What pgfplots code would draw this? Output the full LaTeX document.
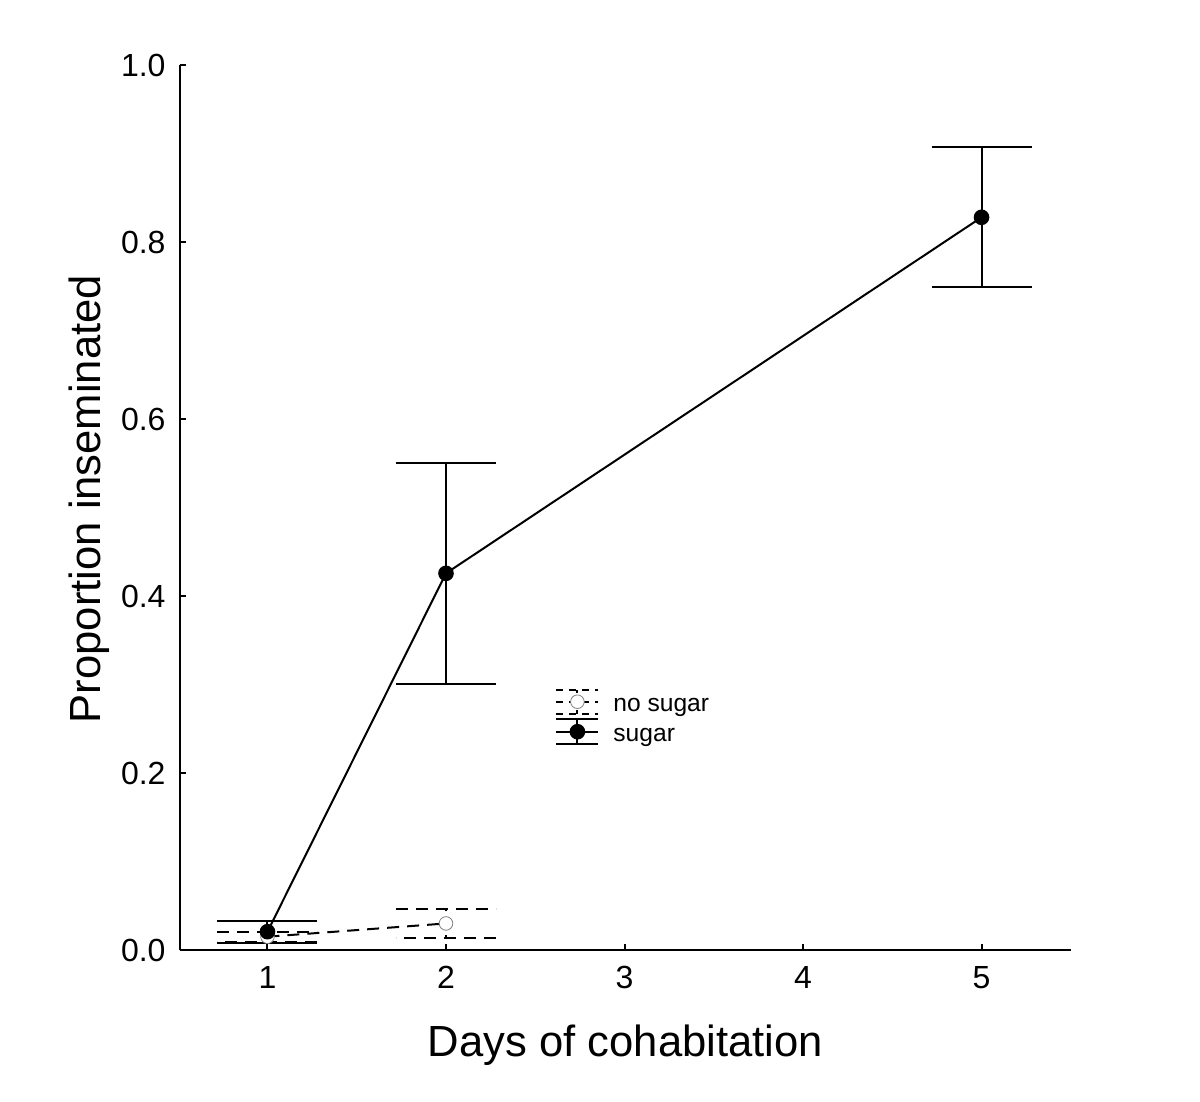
\documentclass[border=0pt]{standalone}
\usepackage{fontspec}
\setmainfont{Liberation Sans}
\usepackage{pgfplots}
\pgfplotsset{compat=1.18}

\pgfplotsset{
  legnosugar/.style={legend image code/.code={
    \path[draw=none, fill=none] (-11pt,-5.1pt) rectangle (11pt,9.9pt);
    \begin{scope}[yshift=2.4pt]
      \draw[black, line width=1pt, dash pattern=on 3.5pt off 3pt] (-10.5pt,6pt) -- (10.5pt,6pt);
      \draw[black, line width=1pt, dash pattern=on 3.5pt off 3pt] (-10.5pt,-6pt) -- (10.5pt,-6pt);
      \draw[black, line width=1pt, dash pattern=on 2pt off 1.5pt] (0pt,-6pt) -- (0pt,6pt);
      \draw[##1, dash pattern=on 3.5pt off 3pt, mark repeat=2, mark phase=2] plot coordinates {(-10.5pt,0pt) (0pt,0pt) (10.5pt,0pt)};
    \end{scope}
  }},
  legsugar/.style={legend image code/.code={
    \path[draw=none, fill=none] (-11pt,-5.1pt) rectangle (11pt,9.9pt);
    \begin{scope}[yshift=2.4pt]
      \draw[black, line width=1pt] (-10.5pt,6.2pt) -- (10.5pt,6.2pt);
      \draw[black, line width=1pt] (-10.5pt,-6.2pt) -- (10.5pt,-6.2pt);
      \draw[black, line width=1pt] (0pt,-6.2pt) -- (0pt,6.2pt);
      \draw[##1, mark repeat=2, mark phase=2] plot coordinates {(-10.5pt,0pt) (0pt,0pt) (10.5pt,0pt)};
    \end{scope}
  }},
}

\begin{document}
\begin{tikzpicture}
\path[use as bounding box] (-90pt,-76pt) rectangle (510pt,475pt);
\begin{axis}[
  at={(0,0)}, anchor=south west,
  scale only axis, width=445.4pt, height=442.5pt,
  xmin=0.51, xmax=5.5, ymin=0, ymax=1,
  clip=false,
  axis x line*=bottom, axis y line*=left,
  axis line style={line width=1pt, black},
  tick align=inside, major tick length=3pt,
  tick style={line width=1pt, black},
  xtick={1,2,3,4,5}, xticklabels={1,2,3,4,5},
  ytick={0,0.2,0.4,0.6,0.8,1.0},
  yticklabel={\pgfmathprintnumber[fixed,fixed zerofill,precision=1,assume math mode=true]{\tick}},
  tick label style={font=\fontsize{16pt}{19pt}\selectfont},
  xticklabel style={yshift=-4.7pt},
  yticklabel style={xshift=-3.7pt},
  xlabel={Days of cohabitation},
  xlabel style={at={(axis description cs:0.5,-0.1209)}, anchor=base, font=\fontsize{21.8pt}{26pt}\selectfont},
  ylabel={Proportion inseminated},
  ylabel style={at={(axis description cs:-0.0898,0.5096)}, anchor=base, font=\fontsize{21.8pt}{26pt}\selectfont},
  legend style={at={(axis cs:2.613,0.2636)}, anchor=west, draw=none, fill=none,
    inner sep=0pt, outer sep=0pt, column sep=7pt, row sep=0pt,
    nodes={inner sep=0pt, font=\fontsize{12.3pt}{14.5pt}\selectfont}},
  legend cell align=left,
]
% no sugar
\addplot[black, line width=1pt, dash pattern=on 6pt off 4pt,
  mark=*, mark size=3.4pt, mark options={solid, fill=white, draw=gray, line width=0.4pt},
  legnosugar,
  error bars/.cd, y dir=both, y explicit, error mark=|,
  error bar style={line width=1pt, dash pattern=on 3pt off 3pt},
  error mark options={mark size=25pt, line width=1pt, dash pattern=on 6pt off 4pt}
] table[x=x, y=y, y error plus=ep, y error minus=em] {
x y ep em
1 0.015 0.0055 0.0065
2 0.030 0.016 0.017
};
\addlegendentry{no sugar}
% sugar
\addplot[black, line width=1pt,
  mark=*, mark size=3.4pt, mark options={solid, fill=black},
  legsugar,
  error bars/.cd, y dir=both, y explicit, error mark=|,
  error bar style={line width=1pt},
  error mark options={mark size=25pt, line width=1pt}
] table[x=x, y=y, y error plus=ep, y error minus=em] {
x y ep em
1 0.0207 0.0117 0.0124
2 0.4256 0.125 0.125
5 0.8279 0.079 0.0784
};
\addlegendentry{sugar}
\end{axis}
\end{tikzpicture}
\end{document}
